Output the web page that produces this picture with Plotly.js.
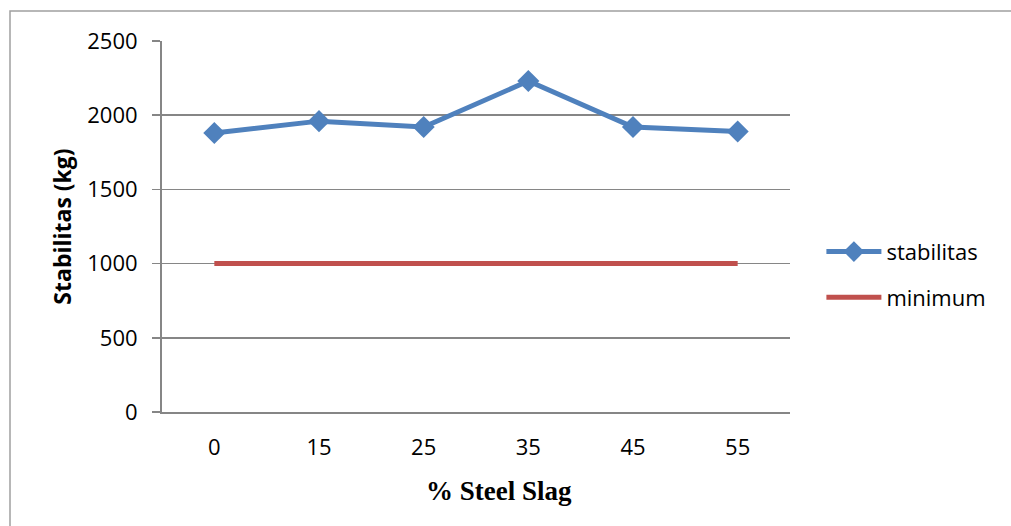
<!DOCTYPE html>
<html>
<head>
<meta charset="utf-8">
<script src="https://cdn.plot.ly/plotly-3.0.1.min.js"></script>
<style>
  html, body { margin: 0; padding: 0; background: #fff; }
  #chart { width: 1011px; height: 526px; }
</style>
</head>
<body>
<div id="chart"></div>
<script>
// Steel slag content (%) and Marshall stability (kg)
const slagPercent = ['0', '15', '25', '35', '45', '55'];
const stabilitas = [1880, 1960, 1920, 2230, 1920, 1890];
const minimum = [1000, 1000, 1000, 1000, 1000, 1000];
const yTicks = [0, 500, 1000, 1500, 2000, 2500];

const labelFont = { family: 'Open Sans, Noto Sans, sans-serif', size: 22, color: '#000' };

const traces = [
  {
    x: slagPercent, y: stabilitas, name: 'stabilitas', type: 'scatter', mode: 'lines+markers',
    legendgroup: 'a',
    line: { color: '#4F81BD', width: 5 },
    marker: { symbol: 'diamond', size: 17, color: '#4F81BD' }
  },
  {
    x: slagPercent, y: minimum, name: 'minimum', type: 'scatter', mode: 'lines',
    legendgroup: 'b',
    line: { color: '#C0504D', width: 5 }
  }
];

const layout = {
  width: 1011, height: 526,
  margin: { l: 162, r: 221, t: 41, b: 114 },
  paper_bgcolor: '#fff', plot_bgcolor: '#fff',
  showlegend: true,
  legend: {
    x: 1.05, y: 0.37, xanchor: 'left', yanchor: 'middle',
    font: labelFont, traceorder: 'grouped', tracegroupgap: 14,
    itemwidth: 55,
    bgcolor: 'rgba(0,0,0,0)'
  },
  xaxis: {
    type: 'category', range: [-0.5, 5.5],
    showgrid: false, zeroline: false,
    showline: true, linecolor: '#868686', linewidth: 2,
    ticks: '', tickfont: labelFont, ticklabelstandoff: 15
  },
  yaxis: {
    range: [0, 2500], tickvals: yTicks,
    showgrid: true, gridcolor: '#868686', gridwidth: 1.5,
    zeroline: false,
    showline: true, linecolor: '#868686', linewidth: 2,
    ticks: 'outside', ticklen: 8, tickcolor: '#868686', tickwidth: 1.5,
    tickfont: labelFont, ticklabelstandoff: 10,
    title: { text: 'Stabilitas (kg)', font: { family: 'Open Sans, Noto Sans, sans-serif', size: 23, color: '#000', weight: 'bold' }, standoff: 9 }
  },
  annotations: [
    {
      // x-axis caption, set slightly right of centre
      text: '<b>% Steel Slag</b>', xref: 'paper', yref: 'paper',
      x: 0.537, y: -0.213, xanchor: 'center', yanchor: 'middle', showarrow: false,
      font: { family: 'Liberation Serif, Times New Roman, serif', size: 27, color: '#000' }
    }
  ],
  shapes: [
    {
      type: 'rect', xref: 'paper', yref: 'paper',
      x0: -152 / 628, x1: 1.5, y0: -1, y1: 1 + 30 / 371,
      line: { color: '#A0A0A0', width: 1.5 }, fillcolor: 'rgba(0,0,0,0)', layer: 'below'
    }
  ]
};

Plotly.newPlot('chart', traces, layout, { displayModeBar: false, staticPlot: true });
</script>
</body>
</html>
